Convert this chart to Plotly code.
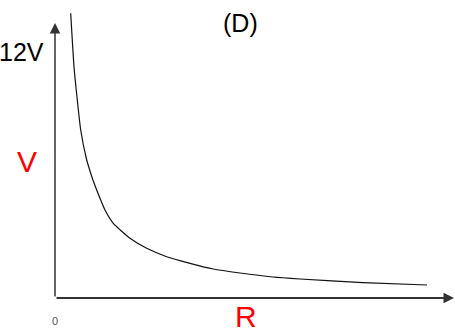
import plotly.graph_objects as go

# Curve values (arbitrary units: R along x, V along y)
R_vals = [15.7, 19, 22.3, 25.7, 31.7, 35, 38.3, 45.7, 50, 58.3, 75, 91.7,
          111.7, 135, 158.3, 185, 218, 245, 308, 372]
V_vals = [284.7, 231.3, 198, 168, 138, 127, 117, 98, 88, 74.7, 59.7, 49.7,
          41.3, 34.7, 29, 25, 21, 19, 15.3, 13]

x_range = [0, 400]
y_range = [0, 298]
x_tip = 399
y_tip = 275

title_text = "(D)"
y_top_label = "12V"
y_label = "V"
x_label = "R"
origin_label = "0"

fig = go.Figure()
fig.add_trace(go.Scatter(x=R_vals, y=V_vals, mode="lines",
                         line=dict(color="#111111", width=1.2, shape="spline", smoothing=0.5),
                         hoverinfo="skip", showlegend=False))

# axes with arrows
fig.add_annotation(x=0, y=y_tip, ax=0, ay=0, xref="x", yref="y", axref="x", ayref="y",
                   showarrow=True, arrowhead=2, arrowwidth=1.5, arrowsize=1.4,
                   arrowcolor="#333333", text="")
fig.add_annotation(x=x_tip, y=0, ax=0, ay=0, xref="x", yref="y", axref="x", ayref="y",
                   showarrow=True, arrowhead=2, arrowwidth=2, arrowsize=1.05,
                   arrowcolor="#333333", text="")

font = "Liberation Sans, Arial, sans-serif"


def label(text, x, y, dx, dy, size, color):
    fig.add_annotation(xref="paper", yref="paper", x=x, y=y, xshift=dx, yshift=dy,
                       xanchor="center", yanchor="middle", text=text, showarrow=False,
                       font=dict(family=font, size=size, color=color))


label(title_text, 0, 1, 185, -23, 25, "black")
label(y_top_label, 0, 1, -34, -52, 25, "black")
label(y_label, 0, 1, -28, -161, 30, "#ff0000")
label(x_label, 0, 0, 191, -18, 30, "#ff0000")
label(origin_label, 0, 0, 0, -23, 11, "#555555")

fig.update_xaxes(range=x_range, visible=False, fixedrange=True)
fig.update_yaxes(range=y_range, visible=False, fixedrange=True)
fig.update_layout(width=455, height=336, margin=dict(l=55, r=0, t=0, b=38),
                  plot_bgcolor="white", paper_bgcolor="white", showlegend=False)

fig.write_html("out.html", config={"displayModeBar": False})
